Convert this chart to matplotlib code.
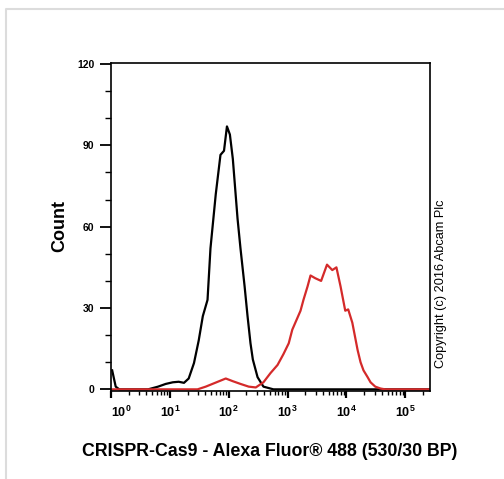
import matplotlib
matplotlib.use("Agg")
import matplotlib.pyplot as plt
import matplotlib.transforms as mtransforms
from matplotlib.lines import Line2D
import numpy as np

plt.rcParams['font.family'] = ['Liberation Sans', 'DejaVu Sans']
plt.rcParams['mathtext.fontset'] = 'custom'
plt.rcParams['mathtext.rm'] = 'Liberation Sans'
plt.rcParams['mathtext.bf'] = 'Liberation Sans:bold'

# control histogram (black), log10 of intensity vs count
ctrl_log = [0.02, 0.08, 0.14, 0.63, 0.80, 0.93, 1.05, 1.15, 1.24, 1.32, 1.41, 1.49,
            1.56, 1.64, 1.69, 1.78, 1.86, 1.92, 1.97, 2.02, 2.07, 2.15, 2.20, 2.27,
            2.32, 2.37, 2.41, 2.49, 2.59, 2.76, 5.45]
ctrl_count = [7, 1, 0, 0, 1, 2, 2.6, 2.8, 2.4, 4, 9.7, 18,
              27, 33, 52, 72, 86.5, 88, 97, 94, 85, 63, 52, 38,
              27, 17, 11, 4.5, 1, 0, 0]

# CRISPR-Cas9 stained sample (red)
smp_log = [0.02, 1.47, 1.61, 1.78, 1.95, 2.07, 2.20, 2.34, 2.46, 2.59, 2.71, 2.83,
           2.93, 3.02, 3.08, 3.17, 3.22, 3.27, 3.34, 3.39, 3.47, 3.57, 3.67, 3.76,
           3.83, 3.90, 3.98, 4.03, 4.10, 4.19, 4.24, 4.29, 4.36, 4.41, 4.49, 4.58,
           4.66, 5.45]
smp_count = [0, 0, 1, 2.5, 4, 3, 2, 1, 0.7, 2.6, 6, 9,
             13, 17, 22, 26.5, 29, 33, 38, 42, 41, 40, 46, 44,
             45, 38, 29, 29.5, 24.6, 14.5, 10, 7, 4.5, 2.6, 1, 0.3,
             0, 0]

xticks = [1, 10, 100, 1000, 10000, 100000]
xticklabels = ['$\\mathbf{10^{%d}}$' % i for i in range(6)]
yticks = [0, 30, 60, 90, 120]

fig = plt.figure(figsize=(5.04, 4.79), dpi=100)
ax = fig.add_axes([111 / 504, 1 - 390.7 / 479, 319 / 504, 328 / 479])

ax.plot(10 ** np.array(ctrl_log), ctrl_count, color='black', lw=1.6)
ax.plot(10 ** np.array(smp_log), smp_count, color='#d42a2a', lw=1.6)

ax.set_xscale('log')
ax.set_xlim(1.0, 10 ** 5.42)
ax.set_ylim(-0.5, 120.5)

ax.set_xticks(xticks)
ax.set_xticklabels(xticklabels, fontsize=9)
ax.set_yticks(yticks)
ax.set_yticklabels([str(v) for v in yticks], fontsize=7.5, fontweight='bold')
ax.set_yticks(np.arange(0, 121, 10), minor=True)

ax.tick_params(axis='y', which='major', length=8, width=1.3, pad=4)
ax.tick_params(axis='y', which='minor', length=4, width=1)
ax.tick_params(axis='x', which='major', length=5, width=1.6, pad=5)
ax.tick_params(axis='x', which='minor', length=3, width=1)

# first decade label sits a bit to the right in the original
lbl0 = ax.get_xticklabels()[0]
lbl0.set_transform(lbl0.get_transform() + mtransforms.ScaledTranslation(10 / 100, 0, fig.dpi_scale_trans))

for s in ax.spines.values():
    s.set_linewidth(1.2)

fig.text(60 / 504, 1 - 226 / 479, 'Count', rotation=90, fontsize=13, fontweight='bold',
         ha='center', va='center')
fig.text(270 / 504, 1 - 451 / 479, 'CRISPR-Cas9 - Alexa Fluor® 488 (530/30 BP)',
         fontsize=12.8, fontweight='bold', ha='center', va='center')
fig.text(441 / 504, 1 - 284 / 479, 'Copyright (c) 2016 Abcam Plc', rotation=90,
         fontsize=9.2, ha='center', va='center')

# light frame around the figure
fig.add_artist(Line2D([6 / 504, 6 / 504, 1.0], [0.0, 1 - 9 / 479, 1 - 9 / 479],
                      transform=fig.transFigure, color='#dcdcdc', lw=1.5))

fig.savefig('out.png', dpi=100)
